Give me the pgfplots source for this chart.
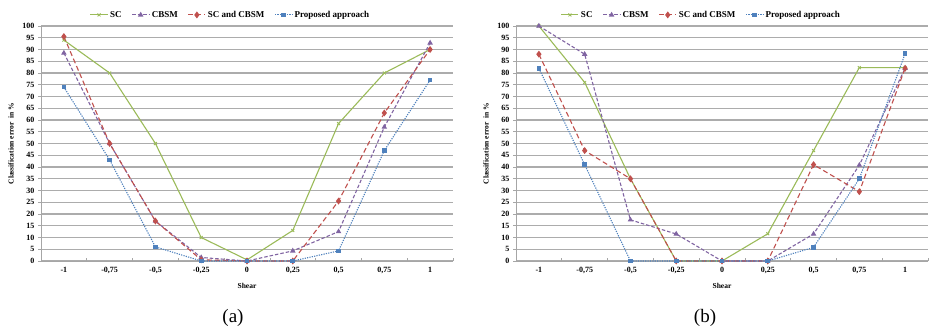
\documentclass[border=0pt]{standalone}
\usepackage{pgfplots}
\pgfplotsset{compat=1.18}
\usepackage{fontspec}
\setmainfont{Liberation Serif}
\definecolor{cSC}{HTML}{9BBB59}
\definecolor{cCB}{HTML}{8064A2}
\definecolor{cSB}{HTML}{C0504D}
\definecolor{cPR}{HTML}{4F81BD}
\pgfplotsset{
  myaxis/.style={
    scale only axis, width=412pt, height=235pt,
    xmin=-0.5, xmax=8.5, ymin=0, ymax=100,
    axis lines=left, axis line style={-, draw=gray!70, line width=0.8pt},
    xtick={0,...,8},
    xticklabels={-1,{-0,75},{-0,5},{-0,25},0,{0,25},{0,5},{0,75},1},
    minor xtick={-0.5,0.5,...,8.5},
    major x tick style={draw=none},
    x tick style={/pgfplots/tick align=inside},
    ytick={0,5,...,100},
    ymajorgrids, major grid style={gray!65, line width=1.3pt},
    tick style={gray!70, line width=0.6pt},
    y tick style={/pgfplots/tick align=outside},
    major tick length=3pt, minor tick length=3pt,
    xtick align=inside, ytick align=outside,
    /pgf/number format/assume math mode=true,
    ticklabel style={font=\bfseries\fontsize{8}{9}\selectfont},
    xticklabel style={yshift=-3pt},
    xlabel={Shear}, ylabel={Classification error\ \ in \%},
    label style={font=\bfseries\fontsize{7.5}{9}\selectfont},
    xlabel style={yshift=-2pt},
    ylabel style={yshift=2pt},
    legend columns=4,
    legend cell align=left,
    legend style={draw=none, fill=none, font=\bfseries\fontsize{9}{10}\selectfont,
      /tikz/every even column/.append style={column sep=8pt}},
    every axis plot/.append style={line width=1.1pt, mark size=2.1pt},
  },
  sc/.style={cSC, solid, mark=x, mark options={solid, line width=0.8pt}},
  cb/.style={cCB, dash pattern=on 3.5pt off 2pt, mark=triangle*, mark options={solid}},
  sb/.style={cSB, dash pattern=on 5pt off 3pt, mark=diamond*, mark options={solid}, mark size=2.6pt},
  pr/.style={cPR, dash pattern=on 1.2pt off 1.2pt, mark=square*, mark options={solid}, mark size=1.8pt},
}
\begin{document}
\begin{tikzpicture}
\path[use as bounding box] (0,0) rectangle (932pt,-333pt);
% Panel (a)
\begin{axis}[myaxis, at={(41pt,-261pt)}, anchor=south west,
  legend style={at={(0.46,1)}, anchor=south, yshift=3pt}]
\addplot[sc] coordinates {(0,94) (1,80) (2,50) (3,10) (4,0.5) (5,13) (6,58.5) (7,80) (8,90)};
\addplot[cb] coordinates {(0,88.5) (1,50) (2,17) (3,1.5) (4,0) (5,4.3) (6,12.5) (7,57) (8,92.8)};
\addplot[sb] coordinates {(0,95.5) (1,50) (2,17) (3,0.5) (4,0) (5,0) (6,25.5) (7,63) (8,90)};
\addplot[pr] coordinates {(0,74) (1,43) (2,6) (3,0) (4,0) (5,0) (6,4.3) (7,47) (8,77)};
\legend{SC, CBSM, SC and CBSM, Proposed approach}
\end{axis}
% Panel (b)
\begin{axis}[myaxis, at={(516pt,-261pt)}, anchor=south west,
  legend style={at={(0.45,1)}, anchor=south, yshift=3pt}]
\addplot[sc] coordinates {(0,100) (1,76) (2,35) (3,0) (4,0) (5,11.6) (6,47) (7,82.3) (8,82.3)};
\addplot[cb] coordinates {(0,100) (1,88) (2,17.5) (3,11.5) (4,0) (5,0) (6,11.5) (7,40.8) (8,82)};
\addplot[sb] coordinates {(0,88) (1,47) (2,35) (3,0) (4,0) (5,0) (6,41) (7,29.5) (8,82)};
\addplot[pr] coordinates {(0,82) (1,41) (2,0) (3,0) (4,0) (5,0) (6,5.8) (7,35) (8,88.2)};
\legend{SC, CBSM, SC and CBSM, Proposed approach}
\end{axis}
\node[font=\fontsize{19}{22}\selectfont] at (233pt,-318pt) {(a)};
\node[font=\fontsize{19}{22}\selectfont] at (705pt,-318pt) {(b)};
\end{tikzpicture}
\end{document}
